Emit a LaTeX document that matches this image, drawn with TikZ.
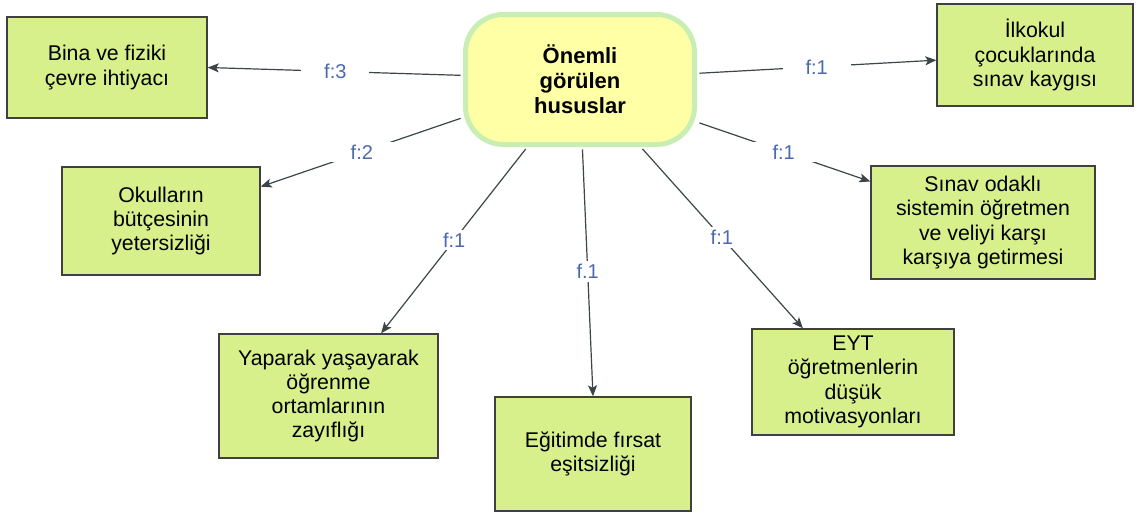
\documentclass[tikz,border=0pt]{standalone}
\usepackage{fontspec}
\setmainfont{Liberation Sans}
\usetikzlibrary{arrows.meta,calc}
\definecolor{boxfill}{RGB}{215,240,140}
\definecolor{boxline}{RGB}{64,64,64}
\definecolor{cfill}{RGB}{255,255,166}
\definecolor{cline}{RGB}{200,238,180}
\definecolor{arrcol}{RGB}{60,70,72}
\definecolor{lblcol}{RGB}{75,105,175}
\begin{document}
\begin{tikzpicture}[x=1pt,y=-1pt,
 box/.style={draw=boxline, line width=1.4pt, fill=boxfill, align=center, inner sep=0pt, font=\fontsize{21.3}{24.3}\selectfont},
 hub/.style={draw=cline, line width=5pt, fill=cfill, rounded corners=38pt, minimum width=229pt, minimum height=130pt, align=center, font=\bfseries\fontsize{22}{25}\selectfont},
 conn/.style={draw=arrcol, line width=1.2pt, shorten <=2.5pt, -{Stealth[length=11pt,width=9pt,inset=2.5pt]}},
 lbl/.style={fill=white, text=lblcol, inner xsep=23pt, inner ysep=3pt, font=\fontsize{20}{22}\selectfont}]
\useasboundingbox[fill=white] (0,0) rectangle (1137,514);

\node[hub] (hub) at (580,79.5) {Önemli\\görülen\\hususlar};

\node[box, minimum width=200pt, minimum height=101pt] (bina) at (107,67.5) {Bina ve fiziki\\çevre ihtiyacı};
\node[box, minimum width=196pt, minimum height=102pt] (ilk) at (1035,55) {İlkokul\\çocuklarında\\sınav kaygısı};
\node[box, minimum width=198pt, minimum height=108pt] (okul) at (161,221) {Okulların\\bütçesinin\\yetersizliği};
\node[box, minimum width=224pt, minimum height=113pt] (sinav) at (983,222.5) {Sınav odaklı\\sistemin öğretmen\\ve veliyi karşı\\karşıya getirmesi};
\node[box, minimum width=219pt, minimum height=124pt] (yap) at (328.5,396) {Yaparak yaşayarak\\öğrenme\\ortamlarının\\zayıflığı};
\node[box, minimum width=196pt, minimum height=114pt] (egit) at (593,454) {Eğitimde fırsat\\eşitsizliği};
\node[box, minimum width=202pt, minimum height=106pt] (eyt) at (853,382) {EYT\\öğretmenlerin\\düşük\\motivasyonları};

\draw[conn] (hub.178) -- node[lbl] {f:3} (bina.east);
\draw[conn] (hub.198) -- node[lbl] {f:2} (okul.19);
\draw[conn] (hub.232) -- node[lbl, inner xsep=4pt] {f:1} (yap.50);
\draw[conn] (hub.272) -- node[lbl, inner xsep=4pt] {f.1} (egit.north);
\draw[conn] (hub.312) -- node[lbl, inner xsep=4pt] {f:1} (eyt.133);
\draw[conn] (hub.340) -- node[lbl] {f:1} (sinav.160);
\draw[conn] (hub.3) -- node[lbl] {f:1} (ilk.183);
\end{tikzpicture}
\end{document}
